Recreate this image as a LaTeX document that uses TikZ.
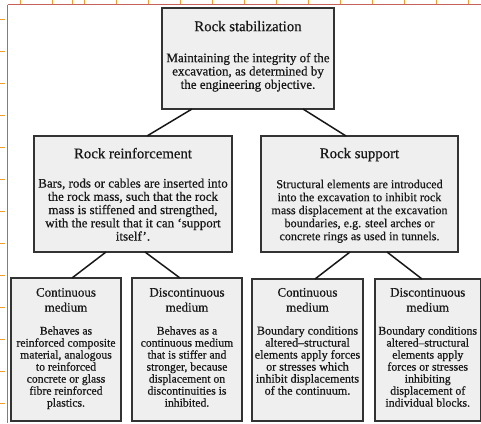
\documentclass[tikz,border=0pt]{standalone}
\usepackage{fontspec}
\setmainfont{Liberation Serif}[FakeBold=0.6]
\usetikzlibrary{calc}
\definecolor{boxfill}{HTML}{EFEFEF}
\definecolor{boxline}{HTML}{333333}
\definecolor{inkc}{HTML}{181818}
\definecolor{rulered}{HTML}{C8605A}
\definecolor{tickor}{HTML}{F0A030}
\newcommand{\bxt}[4]{\parbox[c][#1][t]{#2}{\centering\vspace*{#3}#4}}
\newcommand{\fs}[2]{\fontsize{#1}{#2}\selectfont}
\begin{document}
\begin{tikzpicture}[x=1pt,y=-1pt,
  bx/.style={draw=boxline, fill=boxfill, line width=1.5pt, inner sep=0pt, outer sep=0pt, text=inkc, anchor=north west},
  link/.style={draw=inkc, line width=1.5pt},
  redrule/.style={draw=rulered, line width=1pt},
  tick/.style={draw=tickor, line width=0.8pt}]
\useasboundingbox (0,0) rectangle (481,423);
% page ruler artefacts
\draw[redrule] (7.5,4.5) -- (481,4.5);
\draw[redrule] (7.5,4.5) -- (7.5,423);
\foreach \x in {20,52,72,84,116,148,180,212,244,276,308,340,372,404,436,468}
  \draw[tick] (\x,0) -- (\x,3.5);
\foreach \y in {19,51,83,115,147,179,211,243,275,307,339,371,403}
  \draw[tick] (0,\y) -- (5,\y);
% boxes
\node[bx] (top) at (162,8) {\bxt{101pt}{172pt}{12.9pt}{%
  {\fs{14.8}{16}Rock stabilization\par}\vspace{17.7pt}%
  {\fs{13}{13.3}Maintaining the integrity of the\\ excavation, as determined by\\ the engineering objective.\par}}};
\node[bx] (reinf) at (34,136) {\bxt{116pt}{198pt}{11.9pt}{%
  {\fs{14.8}{16}Rock reinforcement\par}\vspace{16pt}%
  {\fs{13}{13.25}Bars, rods or cables are inserted into\\ the rock mass, such that the rock\\ mass is stiffened and strengthed,\\ with the result that it can `support\\ itself'.\par}}};
\node[bx] (supp) at (261,136) {\bxt{116pt}{197pt}{11.9pt}{%
  {\fs{14.8}{16}Rock support\par}\vspace{17pt}%
  {\fs{12.1}{13}Structural elements are introduced\\ into the excavation to inhibit rock\\ mass displacement at the excavation\\ boundaries, e.g. steel arches or\\ concrete rings as used in tunnels.\par}}};
\node[bx] (rc) at (11,278) {\bxt{143pt}{110pt}{10pt}{%
  {\fs{13}{15}Continuous\\ medium\par}\vspace{11pt}%
  {\fs{11.7}{12}Behaves as\\ reinforced composite\\ material, analogous\\ to reinforced\\ concrete or glass\\ fibre reinforced\\ plastics.\par}}};
\node[bx] (rd) at (132,278) {\bxt{143pt}{110pt}{10pt}{%
  {\fs{13}{15}Discontinuous\\ medium\par}\vspace{11pt}%
  {\fs{11.7}{12}Behaves as a\\ continuous medium\\ that is stiffer and\\ stronger, because\\ displacement on\\ discontinuities is\\ inhibited.\par}}};
\node[bx] (sc) at (252,279) {\bxt{142pt}{111pt}{9pt}{%
  {\fs{13}{15}Continuous\\ medium\par}\vspace{11pt}%
  {\fs{12.1}{12}Boundary conditions\\ altered--structural\\ elements apply forces\\ or stresses which\\ inhibit displacements\\ of the continuum.\par}}};
\node[bx] (sd) at (375,279) {\bxt{142pt}{105.5pt}{9pt}{%
  {\fs{13}{15}Discontinuous\\ medium\par}\vspace{11pt}%
  {\fs{11.8}{12}Boundary conditions\\ altered--structural\\ elements apply\\ forces or stresses\\ inhibiting\\ displacement of\\ individual blocks.\par}}};
% connectors
\draw[link] ([xshift=30pt]top.south west) -- ([xshift=113pt]reinf.north west);
\draw[link] ([xshift=141pt]top.south west) -- ([xshift=85pt]supp.north west);
\draw[link] ([xshift=72pt]reinf.south west) -- ([xshift=61pt]rc.north west);
\draw[link] ([xshift=111pt]reinf.south west) -- ([xshift=48pt]rd.north west);
\draw[link] ([xshift=89pt]supp.south west) -- ([xshift=63pt]sc.north west);
\draw[link] ([xshift=126pt]supp.south west) -- ([xshift=47pt]sd.north west);
\end{tikzpicture}
\end{document}
